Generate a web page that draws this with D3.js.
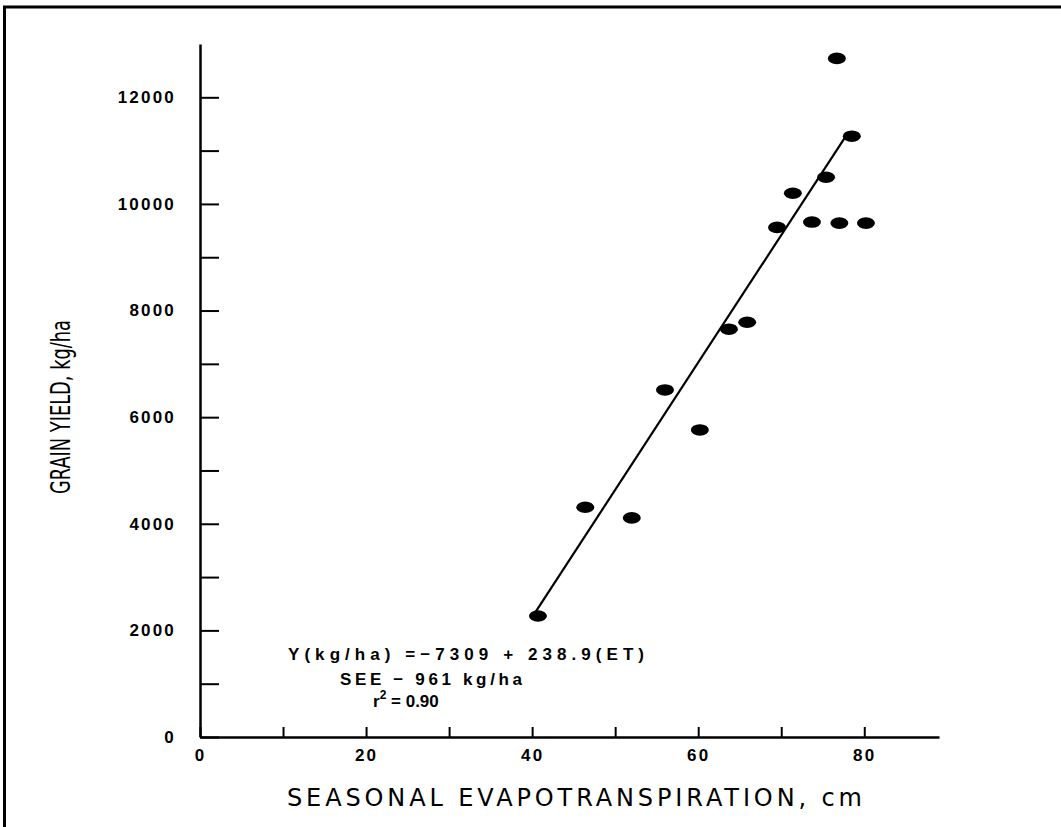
<!DOCTYPE html>
<html>
<head>
<meta charset="utf-8">
<script src="https://cdn.jsdelivr.net/npm/d3@7"></script>
<style>
  html, body { margin: 0; padding: 0; background: #fff; }
  svg { display: block; }
  .axis path, .axis line { stroke: #000; }
  .axis text { font-family: "Liberation Sans", Arial, sans-serif; font-weight: bold; fill: #000; }
</style>
</head>
<body>
<svg width="1061" height="827"></svg>
<script>
// seasonal ET (cm) and grain yield (kg/ha)
var etValues = [40.7, 46.4, 52.0, 56.0, 60.2, 63.7, 65.9, 69.5, 71.4, 73.7, 75.4, 76.7, 77.0, 78.5, 80.2];
var yieldValues = [2270, 4310, 4110, 6510, 5760, 7650, 7780, 9560, 10200, 9660, 10500, 12730, 9640, 11270, 9640];

// regression Y = a + b*ET, drawn over this ET range
var fitA = -7309;
var fitB = 238.9;
var fitRange = [40.3, 78.0];

var xTicks = [0, 10, 20, 30, 40, 50, 60, 70, 80];
var xLabels = ["0", "", "20", "", "40", "", "60", "", "80"];
var yTicks = [0, 1000, 2000, 3000, 4000, 5000, 6000, 7000, 8000, 9000, 10000, 11000, 12000];
var yLabels = ["0", "", "2000", "", "4000", "", "6000", "", "8000", "", "10000", "", "12000"];

var annotation = ["Y(kg/ha)  =\u22127309  +  238.9(ET)", "SEE  \u2212  961 kg/ha", "r2 = 0.90"];

var svg = d3.select("svg");

// frame (top and left edge of the scanned page)
svg.append("line").attr("x1", 3).attr("x2", 1061).attr("y1", 7).attr("y2", 7)
    .attr("stroke", "#000").attr("stroke-width", 3);
svg.append("line").attr("x1", 4.5).attr("x2", 4.5).attr("y1", 6).attr("y2", 827)
    .attr("stroke", "#000").attr("stroke-width", 3);

var x = d3.scaleLinear().domain([0, 89]).range([200, 939]);
var y = d3.scaleLinear().domain([0, 13000]).range([737, 44]);

// y axis, ticks point into the plot
var yAxis = svg.append("g")
    .attr("class", "axis")
    .attr("transform", "translate(" + x(0) + ",0)")
    .call(d3.axisLeft(y)
        .tickValues(yTicks)
        .tickSizeInner(-19)
        .tickSizeOuter(0)
        .tickPadding(24)
        .tickFormat(function(d, i) { return yLabels[i]; }));
yAxis.select(".domain").attr("stroke-width", 2.5);
yAxis.selectAll(".tick line").attr("stroke-width", 2);
yAxis.selectAll(".tick text").attr("font-size", 17).attr("letter-spacing", 2.2);

// x axis
var xAxis = svg.append("g")
    .attr("class", "axis")
    .attr("transform", "translate(0," + y(0) + ")")
    .call(d3.axisBottom(x)
        .tickValues(xTicks)
        .tickSizeInner(-10)
        .tickSizeOuter(0)
        .tickPadding(12)
        .tickFormat(function(d, i) { return xLabels[i]; }));
xAxis.select(".domain").attr("stroke-width", 2.5);
xAxis.selectAll(".tick line").attr("stroke-width", 2);
xAxis.selectAll(".tick text").attr("font-size", 17).attr("letter-spacing", 2.2);

// regression line
svg.append("line")
    .attr("x1", x(fitRange[0])).attr("y1", y(fitA + fitB * fitRange[0]))
    .attr("x2", x(fitRange[1])).attr("y2", y(fitA + fitB * fitRange[1]))
    .attr("stroke", "#000").attr("stroke-width", 2.2);

// data points
var pts = etValues.map(function(v, i) { return {et: v, yield: yieldValues[i]}; });
svg.selectAll("ellipse.pt")
    .data(pts)
    .enter().append("ellipse")
        .attr("class", "pt")
        .attr("cx", function(d) { return x(d.et); })
        .attr("cy", function(d) { return y(d.yield); })
        .attr("rx", 9)
        .attr("ry", 5.8)
        .attr("fill", "#000");

// annotation
var ann = svg.append("g")
    .attr("font-family", "Liberation Sans, Arial, sans-serif")
    .attr("font-weight", "bold")
    .attr("font-size", 17);
ann.append("text").attr("x", 288).attr("y", 660)
    .attr("textLength", 356).attr("lengthAdjust", "spacing")
    .text(annotation[0]);
ann.append("text").attr("x", 340).attr("y", 685)
    .attr("textLength", 182).attr("lengthAdjust", "spacing")
    .text(annotation[1]);
var r2 = ann.append("text").attr("x", 373).attr("y", 707);
r2.append("tspan").text("r");
r2.append("tspan").attr("font-size", 12).attr("dy", -8).text("2");
r2.append("tspan").attr("dy", 8).text(" = 0.90");

// axis titles
svg.append("text")
    .attr("x", 287).attr("y", 806)
    .attr("font-family", "DejaVu Sans, sans-serif")
    .attr("font-size", 24)
    .attr("textLength", 575).attr("lengthAdjust", "spacing")
    .text("SEASONAL EVAPOTRANSPIRATION, cm");

svg.append("text")
    .attr("transform", "translate(70,407) rotate(-90)")
    .attr("text-anchor", "middle")
    .attr("font-family", "Liberation Sans Narrow, DejaVu Sans Condensed, sans-serif")
    .attr("font-size", 27)
    .attr("textLength", 174).attr("lengthAdjust", "spacingAndGlyphs")
    .text("GRAIN YIELD, kg/ha");
</script>
</body>
</html>
